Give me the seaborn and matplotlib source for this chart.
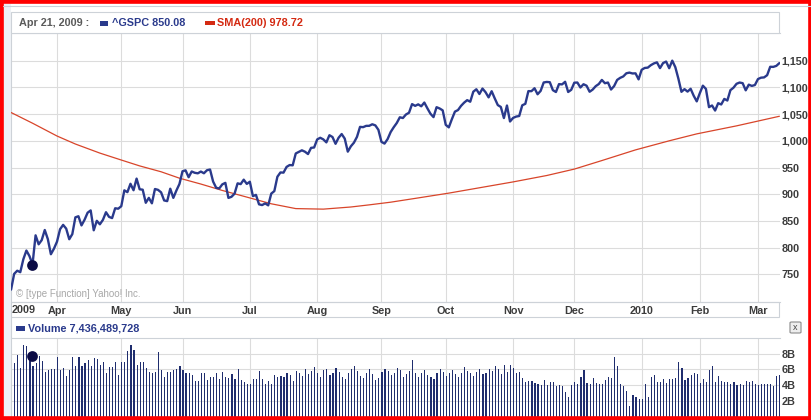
import matplotlib
matplotlib.use("Agg")
import matplotlib.pyplot as plt
from matplotlib.patches import Rectangle, FancyBboxPatch
from matplotlib.lines import Line2D
import numpy as np
import pandas as pd
import seaborn as sns

# ^GSPC daily closes, 10 Mar 2009 .. 10 Mar 2010, one list per month
close_mar09 = [719.6, 721.4, 750.7, 756.6, 753.9, 778.1, 794.4, 784.0, 768.5, 822.9,
               806.1, 813.9, 832.9, 815.9, 787.5, 797.9]
close_apr09 = [811.1, 834.4, 842.5, 835.5, 815.6, 825.2, 856.6, 858.7, 841.5, 852.1,
               865.3, 869.6, 832.4, 850.1, 843.6, 851.9, 866.2, 857.5, 855.2, 873.6, 872.8]
close_may09 = [877.5, 907.2, 903.8, 919.5, 907.4, 929.2, 909.2, 908.4, 883.9, 893.1,
               882.9, 909.7, 908.1, 903.5, 888.3, 887.0, 910.3, 893.1, 906.8, 919.1]
close_jun09 = [942.9, 944.7, 931.8, 942.5, 940.1, 939.1, 942.4, 939.2, 944.9, 946.2,
               923.7, 912.0, 910.7, 918.4, 921.2, 893.0, 895.1, 900.9, 920.3, 918.9, 927.2, 919.3]
close_jul09 = [923.3, 896.4, 898.7, 881.0, 879.6, 882.7, 879.1, 901.1, 905.8, 932.7,
               940.7, 940.4, 951.1, 954.6, 954.1, 976.3, 979.3, 982.2, 979.6, 975.2, 986.8, 987.5]
close_aug09 = [1002.6, 1005.7, 1002.7, 997.1, 1010.5, 1007.1, 994.4, 1005.8, 1012.7, 1004.1,
               979.7, 989.7, 996.5, 1007.4, 1026.1, 1025.6, 1028.0, 1028.1, 1031.0, 1028.9, 1020.6]
close_sep09 = [998.0, 994.8, 1003.2, 1016.4, 1025.4, 1033.4, 1044.1, 1042.7, 1049.3, 1052.6,
               1068.8, 1065.5, 1068.3, 1064.7, 1071.7, 1060.9, 1050.8, 1044.4, 1063.0, 1060.6, 1057.1]
close_oct09 = [1029.9, 1025.2, 1040.5, 1054.7, 1057.6, 1065.5, 1071.5, 1076.2, 1073.2, 1092.0,
               1096.6, 1087.7, 1097.9, 1091.1, 1081.4, 1092.9, 1079.6, 1067.0, 1063.4, 1042.6,
               1066.1, 1036.2]
close_nov09 = [1042.9, 1045.4, 1046.5, 1066.6, 1069.3, 1093.1, 1093.0, 1098.5, 1087.2, 1093.5,
               1109.3, 1110.3, 1109.8, 1094.9, 1091.4, 1106.2, 1105.7, 1110.6, 1091.5, 1095.6]
close_dec09 = [1108.9, 1109.2, 1099.9, 1106.0, 1103.3, 1091.9, 1096.0, 1102.4, 1106.4, 1114.1,
               1107.9, 1109.2, 1096.1, 1102.5, 1114.1, 1118.0, 1120.6, 1126.5, 1127.8, 1126.2,
               1126.4, 1115.1]
close_jan10 = [1133.0, 1136.5, 1137.1, 1141.7, 1145.0, 1147.0, 1136.2, 1145.7, 1148.5, 1136.0,
               1150.2, 1138.0, 1116.5, 1091.8, 1096.8, 1092.2, 1097.5, 1084.5, 1073.9]
close_feb10 = [1089.2, 1103.3, 1097.3, 1063.1, 1066.2, 1056.7, 1070.5, 1068.1, 1078.5, 1075.5,
               1094.9, 1099.5, 1106.8, 1109.2, 1108.0, 1094.6, 1105.2, 1102.9, 1104.5]
close_mar10 = [1115.7, 1118.3, 1118.8, 1123.0, 1138.7, 1138.5, 1140.4, 1145.6]

# 200-day moving average, read at a few trading days
sma_day = [1, 8, 16, 22, 30, 37, 43, 50, 56, 63, 70, 79, 86, 94, 103, 112, 118, 125,
           134, 144, 154, 165, 176, 185, 194, 205, 216, 225, 238, 252]
sma_value = [1053, 1033, 1009, 994, 977, 964, 953, 942, 930, 919, 907, 893, 882, 873, 872,
             876, 880, 885, 893, 902, 912, 923, 935, 947, 963, 983, 1000, 1013, 1028, 1046]

# daily volume, billions of shares
volume_a = [7.3, 7.3, 6.8, 7.9, 6.2, 9.1, 9.0, 8.0, 6.4, 6.8, 7.7, 7.1, 5.7, 5.9, 6.0, 6.0,
            7.6, 5.9, 6.2, 5.2, 5.9, 7.6, 6.5, 7.6, 6.4, 6.8, 7.2, 6.5, 7.5, 7.3, 6.6, 7.0,
            5.5, 6.3, 6.3, 6.9, 5.3, 7.0, 7.0, 8.4, 9.1, 8.5, 6.6, 7.0, 7.0, 6.2, 5.7, 5.5,
            5.7, 8.2, 5.9, 5.1, 5.7, 5.7, 5.9, 6.0, 6.5, 5.9, 5.5, 5.5, 5.3, 4.5, 4.5, 5.5,
            5.5, 4.7, 5.0, 5.1, 5.6, 4.8, 5.7, 5.1, 4.9, 5.4, 4.8, 6.0, 4.7, 4.4, 4.1, 4.1,
            4.8, 4.8, 5.8, 4.8, 4.2, 4.5, 4.2, 5.3, 5.1, 5.2, 5.1, 5.6, 5.3, 4.5, 5.8]
volume_b = [5.5, 5.2, 6.0, 5.4, 5.8, 6.3, 5.6, 5.0, 5.9, 6.1, 5.3, 5.5, 6.2, 5.7, 5.0, 4.8,
            5.6, 6.0, 6.4, 5.8, 5.2, 4.9, 5.5, 6.0, 5.4, 4.6, 4.9, 5.7, 6.1, 5.8, 5.3, 5.6,
            6.2, 5.9, 5.0, 5.4, 5.8, 7.2, 5.6, 5.1, 5.5, 5.9, 5.3, 5.0, 4.8, 5.6, 6.0, 5.7,
            5.2, 5.5, 5.9, 5.4, 5.1, 5.6, 6.3, 5.8, 5.5, 5.2, 5.7, 6.0, 5.4, 5.6, 6.1, 5.8,
            6.5, 6.0]
volume_c = [5.4, 6.6, 5.7, 6.6, 6.2, 5.6, 5.7, 4.9, 4.4, 4.5, 4.5, 4.3, 4.2, 4.0, 4.7, 4.0,
            4.4, 4.4, 3.9, 4.0, 3.9, 3.2, 2.5, 4.0, 4.4, 4.1, 5.0, 5.9, 4.3, 4.1, 4.9, 4.3,
            4.2, 4.1, 4.6, 5.0, 4.9, 7.6, 6.4, 4.1, 3.9, 3.3, 1.4, 2.8, 2.5, 2.3, 2.2, 4.1,
            2.5, 5.0, 5.3, 4.4, 4.4, 4.8, 4.3, 4.8, 4.8, 4.9, 7.0, 6.2, 4.6, 4.9, 5.3, 5.6,
            5.4, 4.3, 4.8, 4.4, 5.9, 6.5, 4.4, 5.2, 4.5, 4.4, 4.4, 4.2, 4.4, 4.0, 4.1, 4.0,
            4.5, 4.4, 4.5, 4.1, 4.0, 4.2, 4.1, 4.1, 4.2, 3.9, 5.2, 5.3]

month_labels = ["Apr", "May", "Jun", "Jul", "Aug", "Sep", "Oct", "Nov", "Dec", "2010", "Feb", "Mar"]
price_ticks = [750, 800, 850, 900, 950, 1000, 1050, 1100, 1150]
volume_ticks = [2, 4, 6, 8]
holidays = ["2009-04-10", "2009-05-25", "2009-07-03", "2009-09-07", "2009-11-26",
            "2009-12-25", "2010-01-01", "2010-01-18", "2010-02-15"]

marker_day, marker_close, marker_volume = 7.8, 768, 7.7

close = (close_mar09 + close_apr09 + close_may09 + close_jun09 + close_jul09 + close_aug09
         + close_sep09 + close_oct09 + close_nov09 + close_dec09 + close_jan10 + close_feb10
         + close_mar10)
volume = volume_a + volume_b + volume_c

dates = pd.bdate_range("2009-03-10", "2010-03-10")
dates = dates[~dates.isin(pd.to_datetime(holidays))]
month_start = [i for i in range(1, len(dates)) if dates[i].month != dates[i - 1].month]

df = pd.DataFrame({"day": np.arange(len(close)), "close": close, "volume": volume})

NAVY = "#2a3a8c"
BAR = "#1f2d6e"
RED = "#d8452a"
GRID = "#dcdcdc"
FRAME = "#cdd2d8"
LABEL = "#3c3c3c"
FS = 7.8

sns.set_theme(style="white")
plt.rcParams["font.family"] = ["Liberation Sans", "DejaVu Sans"]

W, H = 812, 420
fig = plt.figure(figsize=(W / 100, H / 100), dpi=100)
fig.patch.set_facecolor("white")


def box(x0, y0, x1, y1):
    return [x0 / W, 1 - y1 / H, (x1 - x0) / W, (y1 - y0) / H]


def fx(x):
    return x / W


def fy(y):
    return 1 - y / H


def rect(x0, y0, x1, y1, **kw):
    fig.patches.append(Rectangle((fx(x0), fy(y1)), (x1 - x0) / W, (y1 - y0) / H,
                                 transform=fig.transFigure, **kw))


xlim = (0.97, 252.2)

# price panel
ax = fig.add_axes(box(11, 33, 780, 302))
sns.lineplot(data=df, x="day", y="close", color=NAVY, linewidth=1.7, ax=ax, zorder=4)
sns.lineplot(x=sma_day, y=sma_value, color=RED, linewidth=0.9, ax=ax, zorder=3)
ax.scatter([marker_day], [marker_close], s=60, color="#0b0b45", zorder=6, linewidth=0)
ax.set_xlim(*xlim)
ax.set_ylim(698, 1202)
ax.set_yticks(price_ticks)
ax.set_yticklabels([f"{v:,}" for v in price_ticks])
ax.yaxis.tick_right()
ax.set_xticks(month_start)
ax.set_xticklabels(month_labels)
ax.tick_params(axis="y", length=0, pad=1, labelsize=FS, labelcolor=LABEL)
ax.tick_params(axis="x", length=0, pad=3, labelsize=FS, labelcolor=LABEL)
for t in ax.get_xticklabels() + ax.get_yticklabels():
    t.set_fontweight("bold")
ax.grid(True, color=GRID, linewidth=0.8)
ax.set_xlabel("")
ax.set_ylabel("")
for side in ["left", "bottom", "top"]:
    ax.spines[side].set_color(FRAME)
    ax.spines[side].set_linewidth(0.8)
ax.spines["right"].set_visible(False)
ax.text(1.1, -0.03, "2009", transform=ax.get_xaxis_transform(), ha="left", va="center",
        fontsize=FS, fontweight="bold", color=LABEL)
ax.text(0.006, 0.03, "\u00a9 [type Function] Yahoo! Inc.", transform=ax.transAxes,
        fontsize=7, color="#a8a8a8", va="center")

# volume panel: thin bars, drawn with a 1 px edge so every day shows
axv = fig.add_axes(box(11, 338, 780, 416.7))
sns.barplot(data=df, x="day", y="volume", native_scale=True, width=0.05, color=BAR,
            saturation=1, linewidth=0.72, edgecolor=BAR, errorbar=None, ax=axv)
for bar in axv.patches:
    bar.set_antialiased(False)
axv.scatter([marker_day], [marker_volume], s=60, color="#0b0b45", zorder=6, linewidth=0)
axv.set_xlim(*xlim)
axv.set_ylim(0, 10)
axv.set_yticks(volume_ticks)
axv.set_yticklabels([f"{v}B" for v in volume_ticks])
axv.yaxis.tick_right()
axv.set_xticks(month_start)
axv.set_xticklabels([])
axv.tick_params(axis="y", length=0, pad=1, labelsize=FS, labelcolor=LABEL)
axv.tick_params(axis="x", length=0)
for t in axv.get_yticklabels():
    t.set_fontweight("bold")
axv.grid(True, color=GRID, linewidth=0.8)
axv.set_axisbelow(True)
axv.set_xlabel("")
axv.set_ylabel("")
for side in ["left", "top"]:
    axv.spines[side].set_color(FRAME)
    axv.spines[side].set_linewidth(0.8)
for side in ["right", "bottom"]:
    axv.spines[side].set_visible(False)

# frames, header and legends
rect(3.5, 3.5, 11, 416.5, facecolor="#eef1f5", edgecolor="none")
fig.lines.append(Line2D([fx(3), fx(812)], [fy(5.5), fy(5.5)], transform=fig.transFigure,
                        color="#c9d1da", linewidth=0.8))
rect(11, 12, 779, 33, facecolor="white", edgecolor=FRAME, linewidth=0.8)
rect(11, 302, 779, 317, facecolor="none", edgecolor=FRAME, linewidth=0.8)
fig.lines.append(Line2D([fx(11), fx(11)], [fy(317), fy(338)], transform=fig.transFigure,
                        color=FRAME, linewidth=0.8))

fig.text(fx(19), fy(23), "Apr 21, 2009 :", fontsize=FS, fontweight="bold", color="#5a5a5a",
         va="center")
rect(100, 21, 108.5, 25.5, facecolor=NAVY, edgecolor="none")
fig.text(fx(112), fy(23), "^GSPC 850.08", fontsize=FS, fontweight="bold", color=NAVY,
         va="center")
rect(205, 20.5, 215, 24.5, facecolor="#d42a12", edgecolor="none")
fig.text(fx(217), fy(23), "SMA(200) 978.72", fontsize=FS, fontweight="bold", color="#d42a12",
         va="center")

rect(16, 326, 25, 330.5, facecolor=NAVY, edgecolor="none")
fig.text(fx(28), fy(328.5), "Volume 7,436,489,728", fontsize=FS, fontweight="bold",
         color=NAVY, va="center")

fig.patches.append(FancyBboxPatch((fx(790), fy(333)), 11 / W, 11 / H,
                                  boxstyle="round,pad=0,rounding_size=0.002",
                                  transform=fig.transFigure, facecolor="#eeeeee",
                                  edgecolor="#8a8a8a", linewidth=0.8))
fig.text(fx(795.5), fy(327.5), "x", fontsize=6.5, color="#444444", ha="center", va="center")

fig.patches.append(Rectangle((0, 0), 1, 1, transform=fig.transFigure, fill=False,
                             edgecolor="#ff0000", linewidth=5.5))

fig.savefig("out.png", dpi=100)
